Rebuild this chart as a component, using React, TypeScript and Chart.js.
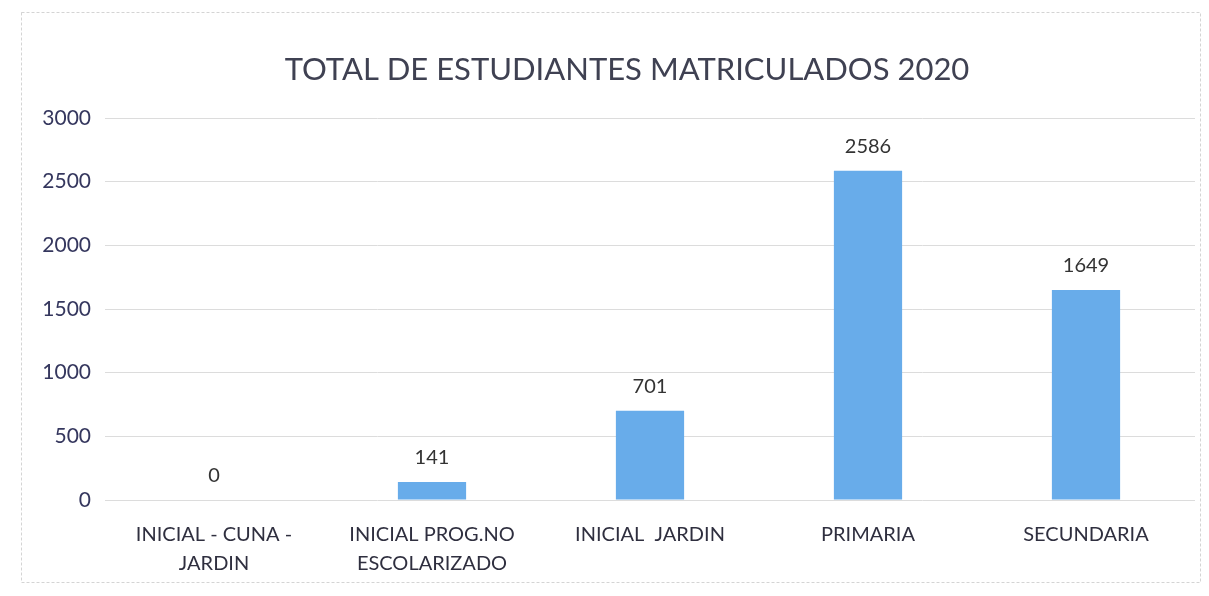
import React, { useEffect, useRef } from "react";
import { Chart, registerables } from "chart.js";

Chart.register(...registerables);

const categories: (string | string[])[] = [
  ["INICIAL - CUNA -", "JARDIN"],
  ["INICIAL PROG.NO", "ESCOLARIZADO"],
  "INICIAL  JARDIN",
  "PRIMARIA",
  "SECUNDARIA",
];
const values: number[] = [0, 141, 701, 2586, 1649];
const yTicks: number[] = [0, 500, 1000, 1500, 2000, 2500, 3000];
const title = "TOTAL DE ESTUDIANTES MATRICULADOS 2020";

const FONT = "Lato, 'Open Sans', sans-serif";

const dataLabels = {
  id: "dataLabels",
  afterDatasetsDraw(chart: any) {
    const ctx = chart.ctx;
    const meta = chart.getDatasetMeta(0);
    ctx.save();
    ctx.font = `20px ${FONT}`;
    ctx.fillStyle = "#333333";
    ctx.textAlign = "center";
    ctx.textBaseline = "bottom";
    meta.data.forEach((el: any, i: number) => {
      ctx.fillText(String(values[i]), el.x, el.y - 14);
    });
    ctx.restore();
  },
};

const frame = {
  id: "frame",
  beforeDraw(chart: any) {
    const ctx = chart.ctx;
    ctx.save();
    ctx.fillStyle = "#ffffff";
    ctx.fillRect(0, 0, chart.width, chart.height);
    ctx.strokeStyle = "#d4d4d4";
    ctx.lineWidth = 1;
    ctx.setLineDash([3, 2]);
    ctx.strokeRect(21.5, 12.5, chart.width - 30, chart.height - 26);
    ctx.restore();
  },
  afterDraw(chart: any) {
    const ctx = chart.ctx;
    ctx.save();
    ctx.font = `31px ${FONT}`;
    ctx.fillStyle = "#3f4152";
    ctx.textAlign = "center";
    ctx.textBaseline = "middle";
    ctx.fillText(title, 627, 70);
    ctx.restore();
  },
};

export default function App() {
  const ref = useRef<HTMLCanvasElement | null>(null);
  useEffect(() => {
    document.body.style.margin = "0";
    const chart = new Chart(ref.current as HTMLCanvasElement, {
      type: "bar",
      data: {
        labels: categories,
        datasets: [
          {
            data: values,
            backgroundColor: "#68acea",
            categoryPercentage: 1,
            barPercentage: 0.313,
          },
        ],
      },
      options: {
        animation: false,
        responsive: false,
        layout: { padding: { top: 118, left: 8, right: 14, bottom: 16 } },
        plugins: {
          legend: { display: false },
          tooltip: { enabled: false },
          title: { display: false },
        },
        scales: {
          x: {
            grid: { display: false },
            border: { display: false },
            ticks: {
              color: "#2f2f3f",
              font: { family: FONT, size: 20, lineHeight: 1.45 },
              padding: 12,
              maxRotation: 0,
              autoSkip: false,
            },
            afterFit(scale: any) {
              scale.height = 80;
            },
          },
          y: {
            min: 0,
            max: 3000,
            afterBuildTicks(scale: any) {
              scale.ticks = yTicks.map((v) => ({ value: v }));
            },
            grid: { color: "#dcdcdc", drawTicks: false },
            border: { display: false },
            ticks: {
              color: "#35375e",
              font: { family: FONT, size: 21 },
              padding: 14,
              callback: (v: any) => String(v),
            },
            afterFit(scale: any) {
              scale.width = 97;
            },
          },
        },
      },
      plugins: [frame, dataLabels],
    });
    return () => chart.destroy();
  }, []);
  return (
    <div style={{ width: 1209, height: 596 }}>
      <canvas ref={ref} width={1209} height={596} />
    </div>
  );
}
